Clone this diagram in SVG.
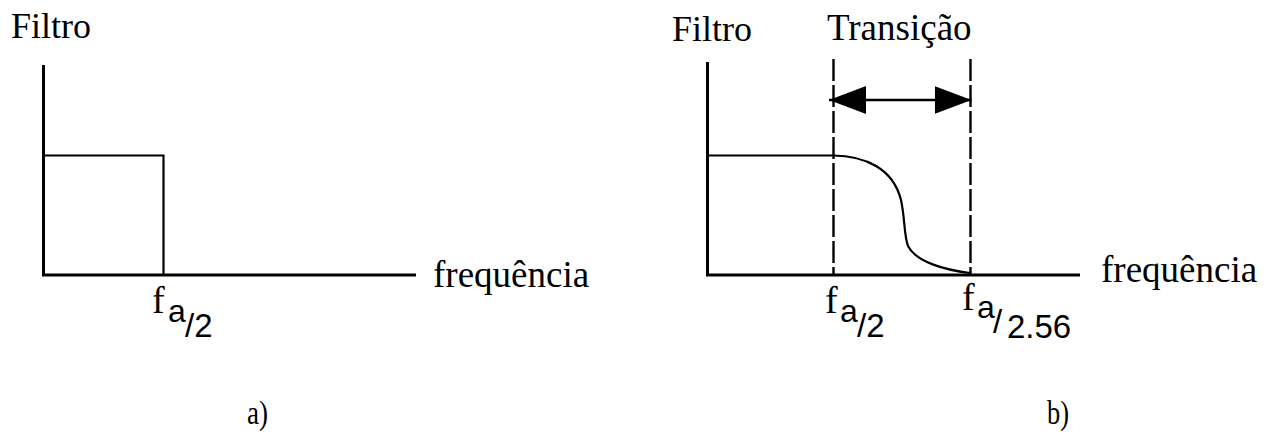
<svg xmlns="http://www.w3.org/2000/svg" width="1276" height="435" viewBox="0 0 1276 435">
  <style>
    .serif { font-family: "Liberation Serif", "Times New Roman", serif; fill: #000; }
    .sans { font-family: "Liberation Sans", Arial, sans-serif; fill: #000; }
    .axis { stroke: #000; stroke-width: 3; fill: none; }
    .resp { stroke: #000; stroke-width: 2.2; fill: none; }
    .dash { stroke: #000; stroke-width: 2.4; stroke-dasharray: 22 4; fill: none; }
    .caption { font-family: "Liberation Serif", "Times New Roman", serif; font-size: 33px; fill: #000; }
  </style>
  <defs>
    <marker id="head" markerUnits="userSpaceOnUse" markerWidth="38" markerHeight="30" refX="37" refY="14" orient="auto-start-reverse">
      <path d="M0,0 L37,14 L0,28 Z" fill="#000"/>
    </marker>
  </defs>

  <rect width="1276" height="435" fill="#fff"/>

  <!-- a) ideal filter -->
  <g id="plot-a">
    <g id="axes-a">
      <path class="axis" d="M43.5,65 V275 H416"/>
    </g>
    <g id="response-a">
      <path class="resp" d="M43.5,155.5 H163.5 V275"/>
    </g>
    <text class="serif" x="11" y="38" font-size="36">Filtro</text>
    <text class="serif" x="433" y="287" font-size="37">frequência</text>
    <g id="label-fa2-a">
      <text class="serif" x="152" y="313" font-size="38">f</text>
      <text class="sans" x="168" y="322" font-size="32">a</text>
      <text class="sans" x="185" y="337" font-size="33">/2</text>
    </g>
    <text class="caption" x="247" y="424" textLength="21" lengthAdjust="spacingAndGlyphs">a)</text>
  </g>

  <!-- b) real filter with transition band -->
  <g id="plot-b">
    <g id="axes-b">
      <path class="axis" d="M707.5,62 V275 H1080"/>
    </g>
    <g id="response-b">
      <path class="resp" d="M707.5,155.5 H833 C865,156 893,168 901,200 C905,218 904,236 908,246 C916,262 945,270 970,273"/>
    </g>
    <g id="connectors">
      <line class="dash" x1="833.5" y1="59" x2="833.5" y2="275"/>
      <line class="dash" x1="970.5" y1="59" x2="970.5" y2="275"/>
      <line x1="829" y1="100" x2="971.5" y2="100" stroke="#000" stroke-width="2.7" marker-start="url(#head)" marker-end="url(#head)"/>
    </g>
    <text class="serif" x="672" y="41" font-size="36">Filtro</text>
    <text class="serif" x="827" y="40" font-size="37">Transição</text>
    <text class="serif" x="1101" y="282" font-size="37">frequência</text>
    <g id="label-fa2-b">
      <text class="serif" x="825" y="313" font-size="38">f</text>
      <text class="sans" x="840" y="322" font-size="32">a</text>
      <text class="sans" x="857" y="337" font-size="33">/2</text>
    </g>
    <g id="label-fa256-b">
      <text class="serif" x="962" y="310" font-size="38">f</text>
      <text class="sans" x="977" y="318" font-size="32">a</text>
      <text class="sans" x="993" y="333" font-size="33">/</text>
      <text class="sans" x="1007" y="338" font-size="33">2.56</text>
    </g>
    <text class="caption" x="1047" y="424" textLength="22" lengthAdjust="spacingAndGlyphs">b)</text>
  </g>
</svg>
